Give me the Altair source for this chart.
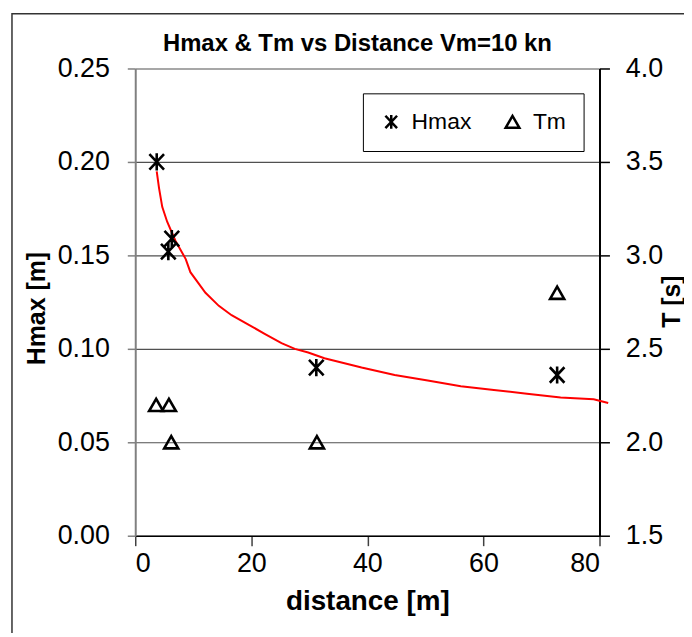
import altair as alt
import pandas as pd

# ---- data ----
series_names = ["Hmax", "Tm"]
hmax_distance = [3.7, 5.7, 6.3, 31.2, 72.7]
hmax_values = [0.200, 0.152, 0.159, 0.090, 0.086]
tm_distance = [3.6, 5.8, 6.2, 31.3, 72.7]
tm_values = [2.2, 2.2, 2.0, 2.0, 2.8]
trend_distance = [3.7, 4.1, 4.65, 5.5, 6.9, 8.7, 9.5, 12.1, 14.4, 16.6, 19.5, 22.3,
                  25.2, 27.5, 29.8, 32.6, 39.0, 44.7, 50.4, 56.1, 61.8, 67.5, 73.3,
                  79.0, 81.5]
trend_values = [0.195, 0.186, 0.176, 0.168, 0.158, 0.148, 0.141, 0.130, 0.123, 0.118,
                0.113, 0.108, 0.103, 0.100, 0.098, 0.095, 0.090, 0.086, 0.083, 0.080,
                0.078, 0.076, 0.074, 0.073, 0.071]
x_ticks = [0, 20, 40, 60, 80]
h_ticks = [0.0, 0.05, 0.10, 0.15, 0.20, 0.25]
t_ticks = [1.5, 2.0, 2.5, 3.0, 3.5, 4.0]

FONT = "Liberation Sans"
STAR = "M-0.85,-0.9L0.85,0.9M-0.85,0.9L0.85,-0.9M0,-1L0,1"

hdf = pd.DataFrame({"distance": hmax_distance, "value": hmax_values, "series": "Hmax"})
tdf = pd.DataFrame({"distance": tm_distance, "value": tm_values, "series": "Tm"})
trdf = pd.DataFrame({"distance": trend_distance, "value": trend_values})

W, H = 467, 470

x_scale = alt.Scale(domain=[0, 80], nice=False, zero=False)
x_axis = alt.Axis(values=x_ticks, grid=False, tickSize=10, tickColor="#404040", tickWidth=1.5,
                  domainColor="black", domainWidth=1.5, labelPadding=5, labelFontSize=27,
                  labelFont=FONT, labelColor="black", title="distance [m]", titleFontSize=28,
                  titleFont=FONT, titleFontWeight="bold", titleColor="black",
                  titleX=W / 2, titleY=66, titleAlign="center", titleBaseline="middle")
x_enc = alt.X("distance:Q", scale=x_scale, axis=x_axis)

h_scale = alt.Scale(domain=[0, 0.25], nice=False, zero=False)
h_axis = alt.Axis(values=h_ticks, format=".2f", grid=True, gridColor="#505050", gridWidth=1.2,
                  tickSize=8, tickColor="#808080", tickWidth=1.5, domainColor="#808080",
                  domainWidth=2, labelPadding=18, labelFontSize=27, labelFont=FONT,
                  labelColor="black", title="Hmax [m]", titleFontSize=25, titleFont=FONT,
                  titleFontWeight="bold", titleColor="black", titleAngle=270,
                  titleX=-99, titleY=241, titleAlign="center", titleBaseline="middle")

t_scale = alt.Scale(domain=[1.5, 4.0], nice=False, zero=False)
t_axis = alt.Axis(values=t_ticks, format=".1f", grid=False, orient="right", tickSize=10,
                  tickColor="black", tickWidth=1.5, domainColor="black", domainWidth=2,
                  labelPadding=16, labelFontSize=27, labelFont=FONT, labelColor="black",
                  title="T [s]", titleFontSize=25, titleFont=FONT, titleFontWeight="bold",
                  titleColor="black", titleAngle=270, titleX=72, titleY=234,
                  titleAlign="center", titleBaseline="middle")

shape_scale = alt.Scale(domain=series_names, range=[STAR, "triangle-up"])
legend = alt.Legend(title=None, orient="none", legendX=229, legendY=25, direction="horizontal",
                    strokeColor="black", fillColor="white", padding=17, labelFontSize=23,
                    labelFont=FONT, labelColor="black", symbolSize=190, symbolStrokeWidth=2.5,
                    symbolStrokeColor="black", symbolFillColor="transparent",
                    symbolOpacity=1, columnPadding=28, labelOffset=9)

frame = alt.Chart(pd.DataFrame({"k": [0]})).mark_rect(
    fillOpacity=0, stroke="#333333", strokeWidth=1.5
).encode(x=alt.value(-124), x2=alt.value(640), y=alt.value(-55), y2=alt.value(640))

trend = alt.Chart(trdf).mark_line(color="#ff0000", strokeWidth=2).encode(
    x=x_enc, y=alt.Y("value:Q", scale=h_scale, axis=h_axis)
)
hpts = alt.Chart(hdf).mark_point(filled=False, color="black", opacity=1, strokeWidth=2.6,
                                 size=300).encode(
    x=x_enc, y=alt.Y("value:Q", scale=h_scale, axis=h_axis),
    shape=alt.Shape("series:N", scale=shape_scale, legend=legend)
)
left = alt.layer(trend, hpts)

tpts = alt.Chart(tdf).mark_point(filled=False, color="black", opacity=1, strokeWidth=2.6,
                                 size=200).encode(
    x=x_enc, y=alt.Y("value:Q", scale=t_scale, axis=t_axis),
    shape=alt.Shape("series:N", scale=shape_scale, legend=legend)
)

chart = alt.layer(frame, left, tpts).resolve_scale(y="independent").properties(
    width=W, height=H,
    padding={"left": 128, "top": 59, "right": 85, "bottom": 96},
    autosize=alt.AutoSizeParams(type="none"),
    title=alt.TitleParams(text="Hmax & Tm vs Distance Vm=10 kn", fontSize=24, fontWeight="bold",
                          font=FONT, color="black", anchor="middle", frame="group",
                          dx=-10, dy=43, offset=0),
    background="white",
).configure_view(strokeOpacity=0)

chart.save("out.html", embed_options={"renderer": "svg", "actions": False})
